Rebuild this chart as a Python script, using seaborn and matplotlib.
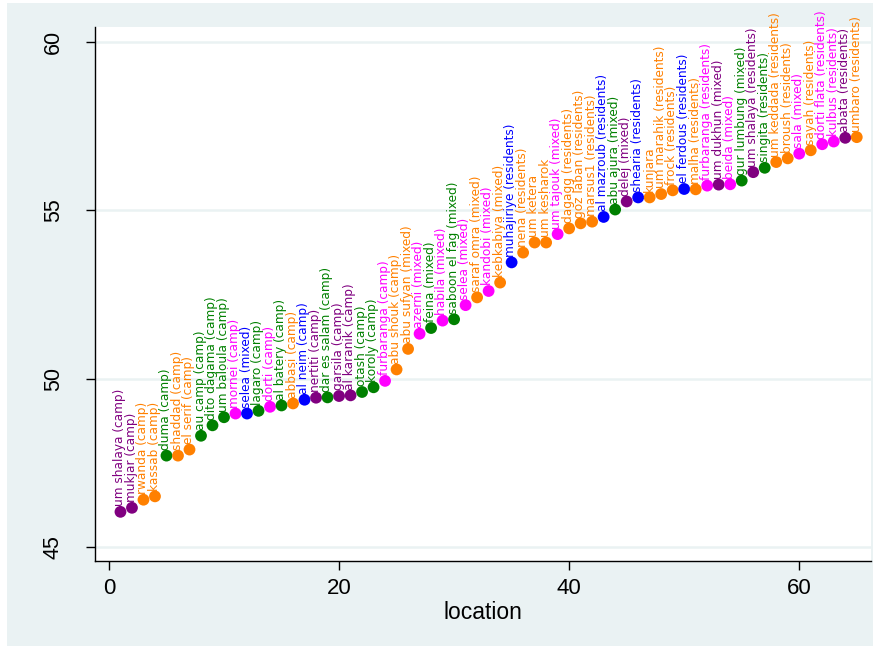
import matplotlib
matplotlib.use("Agg")
import pandas as pd
import seaborn as sns
import matplotlib.pyplot as plt
from matplotlib.patches import Rectangle

# values (location index, value, label, colour group)
location = list(range(1, 66))
value = [46.04, 46.16, 46.40, 46.50, 47.71, 47.71, 47.89, 48.30, 48.61, 48.85,
         48.96, 48.96, 49.04, 49.16, 49.20, 49.26, 49.37, 49.43, 49.44, 49.48,
         49.50, 49.60, 49.74, 49.93, 50.27, 50.88, 51.33, 51.50, 51.72, 51.76,
         52.18, 52.41, 52.60, 52.85, 53.45, 53.74, 54.04, 54.04, 54.29, 54.46,
         54.61, 54.66, 54.80, 55.02, 55.26, 55.38, 55.38, 55.48, 55.59, 55.63,
         55.62, 55.73, 55.76, 55.77, 55.88, 56.13, 56.26, 56.43, 56.54, 56.68,
         56.78, 56.96, 57.04, 57.15, 57.17]
names = ["um shalaya (camp)", "mukjar (camp)", "rwanda (camp)", "kassab (camp)",
         "duma (camp)", "shaddad (camp)", "el serif (camp)", "au camp (camp)",
         "dito dagama (camp)", "um baloula (camp)", "mornei (camp)", "selea (mixed)",
         "lagaro (camp)", "dorti (camp)", "al batery (camp)", "abbasi (camp)",
         "al neim (camp)", "nertiti (camp)", "dar es salam (camp)", "garsila (camp)",
         "al karanik (camp)", "otash (camp)", "koroly (camp)", "furbaranga (camp)",
         "abu shouk (camp)", "abu sufyan (mixed)", "azerni (mixed)", "feina (mixed)",
         "habila (mixed)", "saboon el fag (mixed)", "selea (mixed)", "saraf omra (mixed)",
         "kandobi (mixed)", "kebkabiya (mixed)", "muhajiriye (residents)", "nena (residents)",
         "um ketera", "um kesharok", "um tajouk (mixed)", "dagagg (residents)",
         "goz laban (residents)", "marsus1 (residents)", "al mazroub (residents)",
         "abu ajura (mixed)", "delej (mixed)", "shearia (residents)", "kunjara",
         "um marahik (residents)", "frock (residents)", "el ferdous (residents)",
         "malha (residents)", "furbaranga (residents)", "um dukhun (mixed)",
         "beida (mixed)", "gur lumbung (mixed)", "um shalaya (residents)",
         "singita (residents)", "um keddada (residents)", "broush (residents)",
         "sala (mixed)", "sayah (residents)", "dorti flata (residents)",
         "kulbus (residents)", "abata (residents)", "umbaro (residents)"]
group = ["purple", "purple", "orange", "orange", "green", "orange", "orange", "green",
         "green", "green", "magenta", "blue", "green", "magenta", "green", "orange",
         "blue", "purple", "green", "purple", "purple", "green", "green", "magenta",
         "orange", "orange", "magenta", "green", "magenta", "green", "magenta", "orange",
         "magenta", "orange", "blue", "orange", "orange", "orange", "magenta", "orange",
         "orange", "orange", "blue", "green", "purple", "blue", "orange", "orange",
         "orange", "blue", "orange", "magenta", "purple", "magenta", "green", "purple",
         "green", "orange", "orange", "magenta", "orange", "magenta", "magenta",
         "purple", "orange"]

palette = {"purple": "#800080", "orange": "#FF8000", "green": "#008000",
           "magenta": "#FF00FF", "blue": "#0000FF"}

df = pd.DataFrame({"location": location, "value": value, "name": names, "group": group})

sns.set_style("white")
plt.rcParams["font.family"] = ["Liberation Sans", "DejaVu Sans"]
plt.rcParams["text.color"] = "black"
plt.rcParams["axes.labelcolor"] = "black"
plt.rcParams["xtick.color"] = "black"
plt.rcParams["ytick.color"] = "black"

bg = "#EAF2F3"
fig = plt.figure(figsize=(8.73, 6.46), dpi=100, facecolor="white")
fig.patches.append(Rectangle((7 / 873, 0), 1, 643 / 646, transform=fig.transFigure,
                             facecolor=bg, edgecolor="none", zorder=-10))
ax = fig.add_axes([0.109, 0.1316, 0.889, 0.827])
ax.set_facecolor("white")

for yy in [45, 50, 55, 60]:
    ax.axhline(yy, color=bg, lw=1.8, zorder=0)

sns.scatterplot(data=df, x="location", y="value", hue="group", palette=palette,
                s=72, linewidth=0, legend=False, ax=ax, zorder=3)

for _, r in df.iterrows():
    ax.annotate(r["name"], (r["location"], r["value"]), xytext=(-0.5, 4),
                textcoords="offset points", rotation=90, ha="center", va="bottom",
                fontsize=8.7, family="DejaVu Sans", color=palette[r["group"]], zorder=4)

ax.set_xlim(-1.2, 66.26)
ax.set_ylim(44.58, 60.45)
ax.set_xticks([0, 20, 40, 60])
ax.set_yticks([45, 50, 55, 60])
ax.tick_params(axis="both", direction="out", length=6.5, width=1, colors="black",
               labelsize=16, left=True, bottom=True)
ax.tick_params(axis="x", pad=6)
ax.tick_params(axis="y", pad=16, labelsize=15.5)
for lab in ax.get_yticklabels():
    lab.set_rotation(90)
    lab.set_va("center")
ax.set_xlabel("location", fontsize=16.5, labelpad=1, color="black")
ax.set_ylabel("")

for side in ["top", "right"]:
    ax.spines[side].set_visible(False)
for side in ["left", "bottom"]:
    ax.spines[side].set_color("black")
    ax.spines[side].set_linewidth(1)

fig.savefig("out.png", dpi=100, facecolor="white")
